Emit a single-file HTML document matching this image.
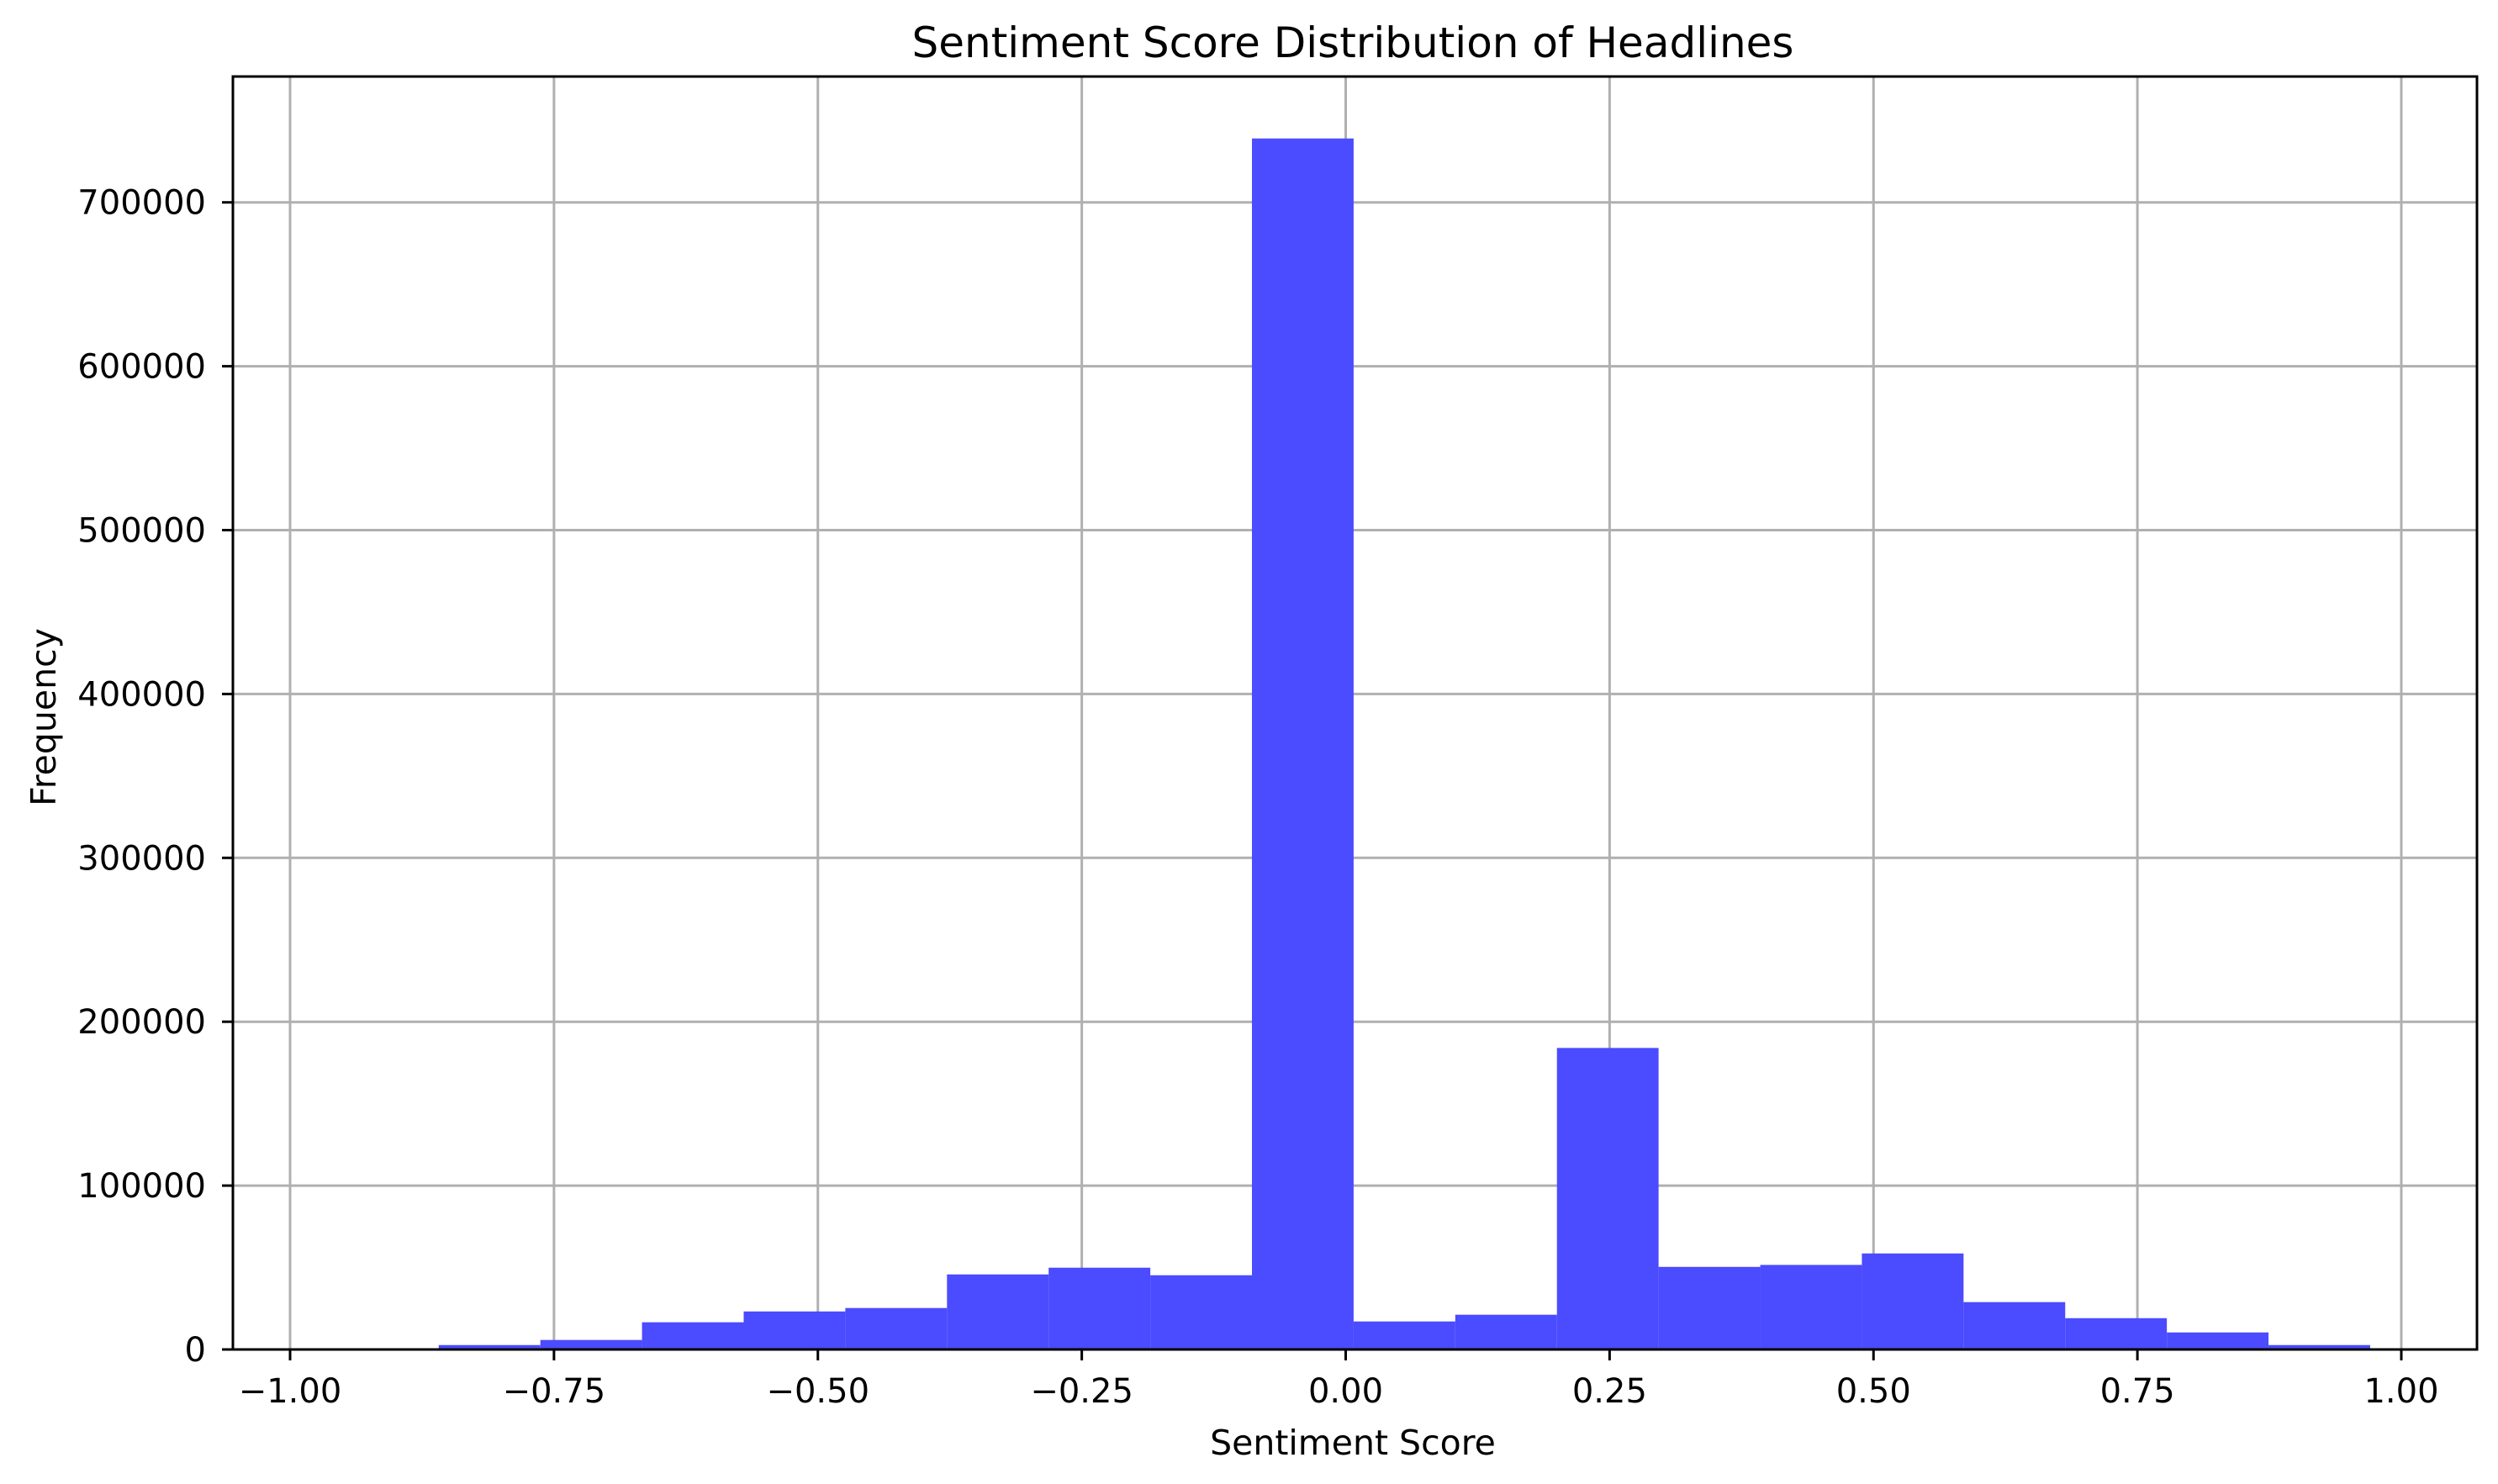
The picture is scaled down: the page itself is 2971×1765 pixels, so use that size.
<!DOCTYPE html>
<html><head><meta charset="utf-8"><style>
html,body{margin:0;padding:0;background:#fff;}
svg{display:block;font-family:"DejaVu Sans","Liberation Sans",sans-serif;}
</style></head><body>
<svg id="chart" width="2971" height="1765" viewBox="0 0 2971 1765" xmlns="http://www.w3.org/2000/svg">
<rect x="0" y="0" width="2971" height="1765" fill="#fff"/>
<g id="grid"></g>
<g id="bars"></g>
<g id="axes"></g>
<text x="1609" y="68" font-size="50" text-anchor="middle">Sentiment Score Distribution of Headlines</text>
<text x="1609" y="1730" font-size="41" text-anchor="middle">Sentiment Score</text>
<text transform="translate(66,853) rotate(-90)" font-size="41" text-anchor="middle">Frequency</text>
</svg>
<script>
const binStart = -0.9555;
const binWidth = 0.0963;
const counts = [0, 2700, 5800, 16600, 23200, 25300, 45800, 49900, 45300, 739000, 17100, 21200, 184000, 50400, 51600, 58600, 28900, 19100, 10400, 2700];
const xTicks = [-1, -0.75, -0.5, -0.25, 0, 0.25, 0.5, 0.75, 1];
const xTickLabels = ["\u22121.00","\u22120.75","\u22120.50","\u22120.25","0.00","0.25","0.50","0.75","1.00"];
const yTicks = [0, 100000, 200000, 300000, 400000, 500000, 600000, 700000];
const yTickLabels = ["0","100000","200000","300000","400000","500000","600000","700000"];

const L = 277, R = 2946, T = 91, B = 1605;
function xs(v){ return 345 + (v + 1) * 1255.5; }
function ys(v){ return B - v * 194.9 / 100000; }
const NS = "http://www.w3.org/2000/svg";
function mk(tag, attrs, parent){ const e = document.createElementNS(NS, tag); for (const k in attrs) e.setAttribute(k, attrs[k]); parent.appendChild(e); return e; }
const grid = document.getElementById('grid'), bars = document.getElementById('bars'), axes = document.getElementById('axes');

xTicks.forEach((t, i) => {
  const g = mk('line', {x1: xs(t), x2: xs(t), y1: T, y2: B, stroke: '#b0b0b0', 'stroke-width': 3}, grid);
  
  
  const tk = mk('line', {x1: xs(t), x2: xs(t), y1: B, y2: B + 13, stroke: '#000', 'stroke-width': 3}, axes);
  
  
  const lb = mk('text', {x: xs(t), y: B + 63, 'font-size': 40, 'text-anchor': 'middle'}, axes);
  lb.textContent = xTickLabels[i];
  
  
});
yTicks.forEach((t, i) => {
  const g = mk('line', {x1: L, x2: R, y1: ys(t), y2: ys(t), stroke: '#b0b0b0', 'stroke-width': 3}, grid);
  
  
  const tk = mk('line', {x1: L - 13, x2: L, y1: ys(t), y2: ys(t), stroke: '#000', 'stroke-width': 3}, axes);
  
  
  const lb = mk('text', {x: L - 32, y: ys(t) + 14, 'font-size': 40, 'text-anchor': 'end'}, axes);
  lb.textContent = yTickLabels[i];
  
  
});
counts.forEach((c, i) => {
  const x0 = xs(binStart + i * binWidth), x1 = xs(binStart + (i + 1) * binWidth);
  const r = mk('rect', {x: x0, y: ys(c), width: x1 - x0, height: B - ys(c), fill: 'rgb(75,75,255)'}, bars);
  
  
});
const frame = mk('rect', {x: L, y: T, width: R - L, height: B - T, fill: 'none', stroke: '#000', 'stroke-width': 3}, axes);


</script>
</body></html>
